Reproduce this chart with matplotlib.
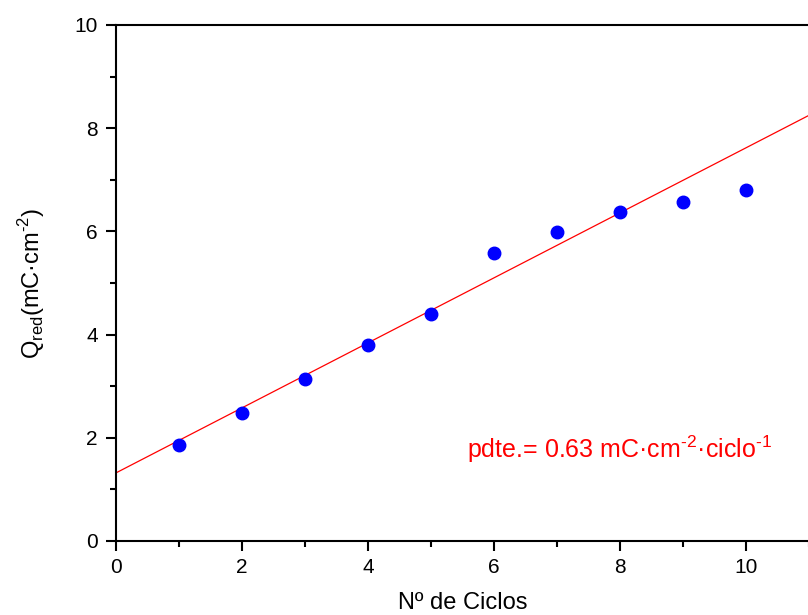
import matplotlib
matplotlib.use("Agg")
import matplotlib.pyplot as plt
from matplotlib.ticker import MultipleLocator

plt.rcParams['font.family'] = ['Liberation Sans', 'DejaVu Sans']
plt.rcParams['mathtext.fontset'] = 'custom'
plt.rcParams['mathtext.rm'] = 'Liberation Sans'

ciclos = [1, 2, 3, 4, 5, 6, 7, 8, 9, 10]
q_red = [1.86, 2.48, 3.14, 3.80, 4.40, 5.58, 5.99, 6.38, 6.57, 6.80]

# ajuste lineal
pendiente = 0.63
ordenada = 1.32
x_fit = [0, 11]
y_fit = [ordenada + pendiente * x for x in x_fit]

fig = plt.figure(figsize=(8.08, 6.15), dpi=100)
ax = fig.add_axes([116 / 808, 74 / 615, 693 / 808, 516 / 615])

ax.plot(x_fit, y_fit, color='red', lw=0.9, zorder=2)
ax.plot(ciclos, q_red, 'o', color='blue', ms=9, zorder=3)

ax.set_xlim(0, 11)
ax.set_ylim(0, 10)
ax.xaxis.set_major_locator(MultipleLocator(2))
ax.xaxis.set_minor_locator(MultipleLocator(1))
ax.yaxis.set_major_locator(MultipleLocator(2))
ax.yaxis.set_minor_locator(MultipleLocator(1))
ax.tick_params(which='major', direction='out', length=7, width=1.5, labelsize=15)
ax.tick_params(axis='x', which='major', pad=5)
ax.tick_params(axis='y', which='major', pad=6)
ax.tick_params(which='minor', direction='out', length=4, width=1.5)
ax.tick_params(top=False, right=False)
for s in ['left', 'bottom', 'top']:
    ax.spines[s].set_linewidth(1.5)
ax.spines['right'].set_visible(False)

ax.set_xlabel('Nº de Ciclos', fontsize=17, labelpad=11)
ax.set_ylabel(r'Q$_{\mathrm{red}}$(mC·cm$^{\text{-2}}$)', fontsize=17, labelpad=20)

ax.text(5.57, 1.6, r'pdte.= 0.63 mC·cm$^{\text{-2}}$·ciclo$^{\text{-1}}$',
        color='red', fontsize=18, ha='left', va='baseline')

plt.savefig("out.png", dpi=100)
